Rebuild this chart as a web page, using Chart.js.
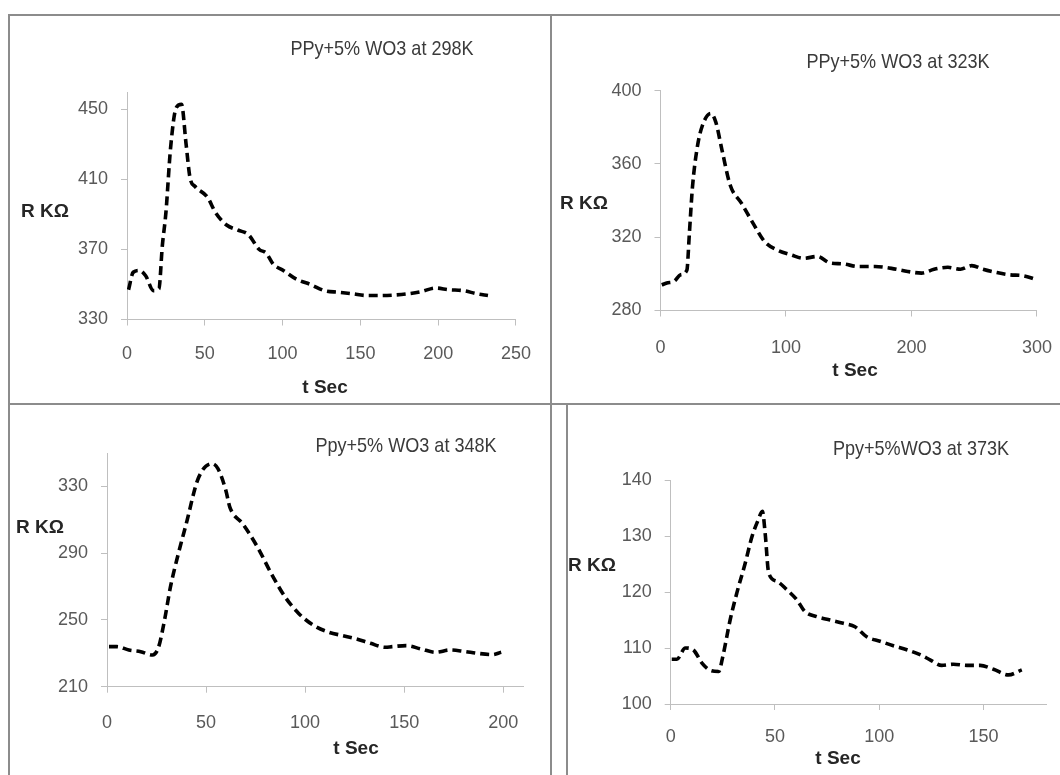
<!DOCTYPE html>
<html>
<head>
<meta charset="utf-8">
<script src="https://cdn.jsdelivr.net/npm/chart.js@4.4.1/dist/chart.umd.min.js"></script>
<style>
  html, body { margin: 0; padding: 0; background: #fff; }
  body { width: 1060px; height: 775px; position: relative; overflow: hidden;
         font-family: "Liberation Sans", sans-serif; }
  canvas { position: absolute; }
  .ln { position: absolute; background: #8c8c8c; z-index: 5; }
  .txt { position: absolute; transform: translate(-50%, -50%); white-space: nowrap; color: #3a3a3a; z-index: 4; }
  .ttl { font-size: 21px; transform: translate(-50%, -50%) scaleX(0.86); }
  .ax { font-size: 19px; font-weight: bold; color: #262626; }
</style>
</head>
<body>
<!-- panel frames -->
<div class="ln" style="left:9px;top:14px;width:1051px;height:2px"></div>
<div class="ln" style="left:8px;top:14px;width:2px;height:761px"></div>
<div class="ln" style="left:550px;top:14px;width:2px;height:390px"></div>
<div class="ln" style="left:9px;top:403px;width:1051px;height:2px"></div>
<div class="ln" style="left:550px;top:403px;width:2px;height:372px"></div>
<div class="ln" style="left:566px;top:403px;width:2px;height:372px"></div>

<canvas id="c1" width="538" height="385" style="left:11px;top:17px"></canvas>
<canvas id="c2" width="520" height="385" style="left:553px;top:17px"></canvas>
<canvas id="c3" width="538" height="369" style="left:11px;top:406px"></canvas>
<canvas id="c4" width="500" height="369" style="left:569px;top:406px"></canvas>

<div class="txt ttl" style="left:382px;top:48px">PPy+5% WO3 at 298K</div>
<div class="txt ax" style="left:45px;top:211px">R KΩ</div>
<div class="txt ax" style="left:325px;top:387px">t Sec</div>

<div class="txt ttl" style="left:898px;top:61px">PPy+5% WO3 at 323K</div>
<div class="txt ax" style="left:584px;top:203px">R KΩ</div>
<div class="txt ax" style="left:855px;top:370px">t Sec</div>

<div class="txt ttl" style="left:406px;top:445px">Ppy+5% WO3 at 348K</div>
<div class="txt ax" style="left:40px;top:527px">R KΩ</div>
<div class="txt ax" style="left:356px;top:748px">t Sec</div>

<div class="txt ttl" style="left:921px;top:448px">Ppy+5%WO3 at 373K</div>
<div class="txt ax" style="left:592px;top:565px">R KΩ</div>
<div class="txt ax" style="left:838px;top:758px">t Sec</div>

<script>
// 298 K
const t298 = [1, 4, 8, 12, 17, 20.5, 22.7, 25, 28, 31.6, 35, 38, 40.5, 43.8, 51.6, 57, 64, 71.6, 78, 85, 89.4, 94, 100.5, 109, 118, 127, 136, 145, 154, 163, 172, 180.6, 189.5, 198, 207, 216, 225, 232];
const r298 = [347, 357, 358, 355, 346.5, 347.5, 372, 391, 428, 451, 453, 430, 411, 406, 400, 391, 384, 381, 378.5, 370, 368, 361.6, 358, 353, 350, 346.5, 345.6, 344.7, 343.7, 343.7, 344, 344.7, 346, 348, 347, 346.5, 344.7, 343.7];
const xt298 = [0, 50, 100, 150, 200, 250];
const yt298 = [330, 370, 410, 450];

// 323 K
const t323 = [1, 5, 11, 16, 21, 23, 25.5, 29.4, 33.4, 40, 44, 49, 55.5, 64.6, 73.8, 83, 93, 104, 114, 125, 135, 145, 158, 171, 184, 197, 208, 218, 229, 239, 248, 257, 268, 278, 289, 299];
const r323 = [294, 295, 296, 299.5, 302, 322, 347.6, 369.5, 381, 387.6, 383, 367.6, 348.5, 338.5, 327.6, 317.6, 313, 310.4, 308.5, 309.5, 306, 305.5, 304, 304, 303, 301.3, 300.4, 302.5, 303.6, 302.5, 304.5, 302.5, 300.7, 299.5, 299, 297];
const xt323 = [0, 100, 200, 300];
const yt323 = [280, 320, 360, 400];

// 348 K
const t348 = [1, 5, 11, 17, 23, 26, 29, 32, 36, 40, 46, 53, 56, 60, 62, 68.5, 76, 83, 90, 97, 104.5, 112, 119, 126, 133, 140.5, 144, 151, 158.5, 166, 173, 180, 187, 194.5, 199];
const r348 = [234, 234, 232, 231, 229, 233.6, 249.6, 269.6, 289.6, 307.6, 334.6, 343.6, 340.6, 327.6, 317.6, 307.6, 293.6, 277.6, 263.6, 253.6, 246.6, 242.6, 240.6, 238.6, 236, 233.6, 234, 234.6, 232.6, 230.6, 232, 231.2, 230, 229.2, 230.6];
const xt348 = [0, 50, 100, 150, 200];
const yt348 = [210, 250, 290, 330];

// 373 K
const t373 = [0.5, 3, 7, 11, 15, 19, 23, 25, 28.5, 31.7, 35.7, 39, 42, 44, 45.3, 47, 51, 55.7, 60.5, 64.4, 70, 76.4, 82.8, 88.4, 94, 100.4, 106.8, 113.2, 119.6, 124.4, 130, 135.6, 142, 148.4, 154.8, 162, 168.4];
const r373 = [108, 108, 110, 109.6, 107.3, 106, 105.8, 108.5, 115, 119.8, 125.1, 129.9, 132.9, 134.4, 130.5, 123.4, 121.9, 120.4, 118.6, 116.5, 115.6, 115, 114.4, 113.8, 112, 111.2, 110.4, 109.7, 108.8, 107.9, 106.9, 107.1, 106.9, 106.9, 106.2, 105.2, 106.1];
const xt373 = [0, 50, 100, 150];
const yt373 = [100, 110, 120, 130, 140];

const TICK_FONT = { family: "'Liberation Sans', sans-serif", size: 18 };
const AXIS_GREY = "#bfbfbf";
const Y_W = 60, X_H = 50;

// box = canvas placement, area = wanted plot rectangle (page px)
function panel(id, box, area, t, r, xr, yr, xt, yt, xpad) {
  const pad = {
    left: area.l - box.x - Y_W,
    right: box.x + box.w - area.r,
    top: area.t - box.y,
    bottom: box.y + box.h - area.b - X_H,
  };
  const axis = (min, max, ticks, w, tpad) => ({
    type: "linear",
    min, max,
    afterBuildTicks: (s) => { s.ticks = ticks.map((v) => ({ value: v })); },
    afterFit: (s) => { if (w === "x") s.height = X_H; else s.width = Y_W; },
    grid: { drawOnChartArea: false, color: AXIS_GREY, tickLength: 6, lineWidth: 1 },
    border: { color: AXIS_GREY, width: 1 },
    ticks: { font: TICK_FONT, color: "#595959", padding: tpad, maxRotation: 0, autoSkip: false },
  });
  new Chart(document.getElementById(id), {
    type: "line",
    data: {
      datasets: [{
        data: t.map((x, i) => ({ x, y: r[i] })),
        borderColor: "#000",
        borderWidth: 3.6,
        borderDash: [9, 5],
        pointRadius: 0,
        cubicInterpolationMode: "monotone",
        fill: false,
      }],
    },
    options: {
      responsive: false,
      animation: false,
      devicePixelRatio: 1,
      layout: { padding: pad },
      plugins: { legend: { display: false }, tooltip: { enabled: false } },
      scales: {
        x: axis(xr[0], xr[1], xt, "x", xpad),
        y: axis(yr[0], yr[1], yt, "y", 13),
      },
    },
  });
}

panel("c1", { x: 11, y: 17, w: 538, h: 385 }, { l: 127, r: 523, t: 92, b: 319.5 },
  t298, r298, [0, 250], [330, 460], xt298, yt298, 18);
panel("c2", { x: 553, y: 17, w: 520, h: 385 }, { l: 660.5, r: 1044.5, t: 90.7, b: 310.5 },
  t323, r323, [0, 300], [280, 400], xt323, yt323, 21);
panel("c3", { x: 11, y: 406, w: 538, h: 369 }, { l: 107, r: 523, t: 453, b: 686.7 },
  t348, r348, [0, 210], [210, 350], xt348, yt348, 20);
panel("c4", { x: 569, y: 406, w: 500, h: 369 }, { l: 670.7, r: 1046, t: 480, b: 704 },
  t373, r373, [0, 180], [100, 140], xt373, yt373, 16);
</script>
</body>
</html>
